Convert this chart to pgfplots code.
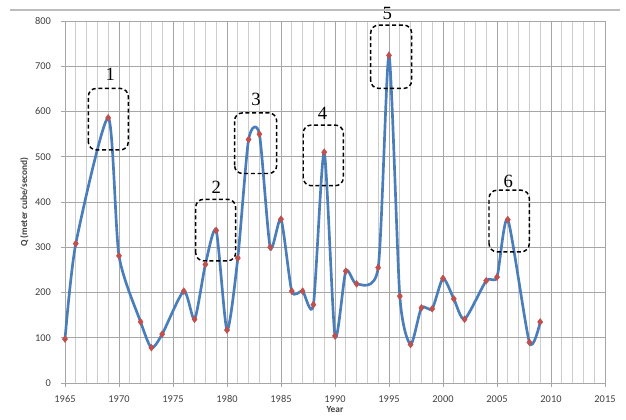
\documentclass[border=0pt]{standalone}
\usepackage{fontspec}
\usepackage{pgfplots}
\pgfplotsset{compat=1.18}
\setmainfont{Liberation Serif}
\newfontfamily\carlito{Carlito}
\definecolor{lineblue}{HTML}{4A7EBB}
\definecolor{markred}{HTML}{C0504D}
\definecolor{majgrid}{HTML}{A6A6A6}
\definecolor{mingrid}{HTML}{CDCDCD}
\definecolor{tickgray}{HTML}{404040}
\tikzset{annobox/.style={black, line width=1.1pt, dash pattern=on 3pt off 2pt, rounded corners=6pt}}
\begin{document}
\begin{tikzpicture}
\useasboundingbox (-48.75pt,-27.75pt) rectangle (420.75pt,287.25pt);
\begin{axis}[
  at={(0,0)}, anchor=south west,
  scale only axis, width=405pt, height=271.5pt,
  xmin=1965, xmax=2015, ymin=0, ymax=800,
  xtick={1965,1970,...,2015}, ytick={0,100,...,800},
  minor x tick num=4,
  grid=both,
  major grid style={majgrid, line width=0.6pt},
  minor grid style={mingrid, line width=0.6pt},
  axis line style={majgrid, line width=0.7pt},
  tick style={majgrid, line width=0.7pt},
  major tick length=3pt, minor tick length=0pt,
  tick align=outside, xtick pos=bottom, ytick pos=left,
  /pgf/number format/assume math mode=true,
  /pgf/number format/set thousands separator={},
  ticklabel style={font=\carlito\fontsize{7.8}{9}\selectfont, text=tickgray},
  xticklabel shift=3pt, yticklabel shift=4pt,
  xlabel={\carlito\bfseries Year},
  ylabel={\carlito\bfseries Q (meter cube/second)},
  label style={font=\fontsize{7}{8}\selectfont, text=tickgray},
  xlabel style={yshift=4pt},
  ylabel style={yshift=-2pt},
  clip=false,
]
\addplot[lineblue, line width=2pt, smooth, tension=0.4,
  mark=diamond*, mark size=2.6pt, mark options={markred, draw=markred, line width=0.3pt}]
  coordinates {
  (1965,97) (1966,308) (1969,586) (1970,281) (1972,135) (1973,78) (1974,108)
  (1976,203) (1977,141) (1978,262) (1979,337) (1980,117) (1981,276)
  (1982,538) (1983,550) (1984,300) (1985,362) (1986,203) (1987,203)
  (1988,173) (1989,510) (1990,104) (1991,247) (1992,219) (1994,255)
  (1995,724) (1996,192) (1997,85) (1998,166) (1999,164) (2000,231)
  (2001,186) (2002,141) (2004,226) (2005,234) (2006,361) (2008,90) (2009,135)
  };
\draw[annobox] (axis cs:1967.16,515) rectangle (axis cs:1970.86,651);
\draw[annobox] (axis cs:1977.1,270) rectangle (axis cs:1980.8,406);
\draw[annobox] (axis cs:1980.7,463) rectangle (axis cs:1984.6,597);
\draw[annobox] (axis cs:1987.06,436) rectangle (axis cs:1990.77,570);
\draw[annobox] (axis cs:1993.3,651) rectangle (axis cs:1997.1,791);
\draw[annobox] (axis cs:2004.26,290) rectangle (axis cs:2007.99,426);
\node[font=\fontsize{14}{16}\selectfont] at (axis cs:1969.2,683) {1};
\node[font=\fontsize{14}{16}\selectfont] at (axis cs:1979.0,432) {2};
\node[font=\fontsize{14}{16}\selectfont] at (axis cs:1982.7,627) {3};
\node[font=\fontsize{14}{16}\selectfont] at (axis cs:1988.85,596) {4};
\node[font=\fontsize{14}{16}\selectfont] at (axis cs:1994.85,816) {5};
\node[font=\fontsize{14}{16}\selectfont] at (axis cs:2006.05,446) {6};
\end{axis}
\draw[mingrid!80!gray, line width=0.8pt] (-41.25pt,279.75pt) -- (416pt,279.75pt);
\end{tikzpicture}
\end{document}
